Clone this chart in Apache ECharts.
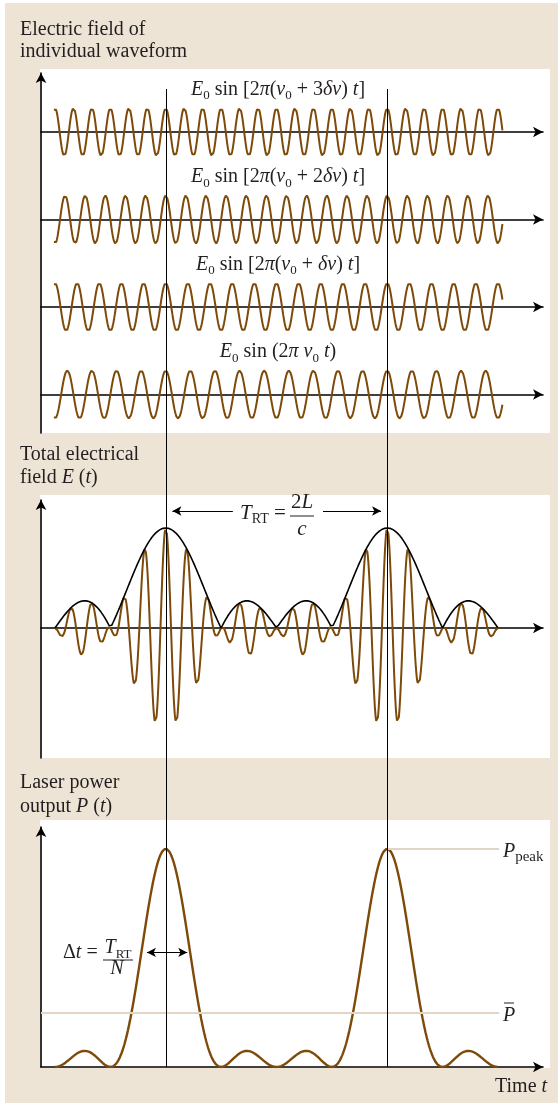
<!DOCTYPE html>
<html>
<head>
<meta charset="utf-8">
<title>Mode locking</title>
<script src="https://cdn.jsdelivr.net/npm/echarts@6/dist/echarts.min.js"></script>
<style>
  html, body { margin: 0; padding: 0; background: #fff; }
  #chart { width: 558px; height: 1103px; }
</style>
</head>
<body>
<div id="chart"></div>
<script>
// cycles of each mode per round trip, top row first (counted between the two marker lines)
var modeCycles = [12, 11, 10, 9];
var modeLabels = [
  '{i|E}{s|0}{r| sin [2}{i|π}{r|(}{i|ν}{s|0}{r| + 3}{i|δν}{r|) }{i|t}{r|]}',
  '{i|E}{s|0}{r| sin [2}{i|π}{r|(}{i|ν}{s|0}{r| + 2}{i|δν}{r|) }{i|t}{r|]}',
  '{i|E}{s|0}{r| sin [2}{i|π}{r|(}{i|ν}{s|0}{r| + }{i|δν}{r|) }{i|t}{r|]}',
  '{i|E}{s|0}{r| sin (2}{i|π ν}{s|0}{i| t}{r|)}'
];
// time in round-trip units, marker lines at 0 and 1
var markTimes = [0, 1];
var waveSpan = [-0.505, 1.52];
var pulseSpan = [-0.5, 1.5];
var ruleEnd = 1.505;
var step = 0.001;

var SERIF = "'Liberation Serif', 'DejaVu Serif', 'Times New Roman', serif";
var INK = '#231f20';
var BROWN = '#7d4a0a';
var SAND = '#ede4d6';
var RULE = '#e2d5c3';

var PX0 = 165.75, TPX = 221.5;   // pixel of t = 0, pixels per round trip
var LEFT = 41, RIGHT = 543;
var xMin = (LEFT - PX0) / TPX, xMax = (RIGHT - PX0) / TPX;
var waveMid = [132, 219.5, 307, 394.5];

function sample(a, b, fn) {
  var out = [], n = Math.round((b - a) / step);
  for (var k = 0; k <= n; k++) {
    var t = a + k * step;
    out.push([t, fn(t)]);
  }
  return out;
}
function sumModes(t) {
  var re = 0, im = 0;
  modeCycles.forEach(function (f) {
    re += Math.cos(2 * Math.PI * f * t);
    im += Math.sin(2 * Math.PI * f * t);
  });
  return [re, im];
}
var N = modeCycles.length;
var peakPower = N * N, meanPower = N;

function rich(size) {
  var sub = Math.round(size * 0.66);
  return {
    r: { fontFamily: SERIF, fontSize: size, fill: INK, lineHeight: size + 6 },
    i: { fontFamily: SERIF, fontSize: size, fontStyle: 'italic', fill: INK, lineHeight: size + 6 },
    s: { fontFamily: SERIF, fontSize: sub, fill: INK, lineHeight: sub + 4, verticalAlign: 'bottom' },
    b: { fontFamily: SERIF, fontSize: sub + 2, fill: INK, lineHeight: sub + 2, verticalAlign: 'bottom' }
  };
}
function text(x, y, str, size, align) {
  return {
    type: 'text', x: x, y: y, z: 100, silent: true,
    style: {
      text: str, fill: INK, fontFamily: SERIF, fontSize: size,
      align: align || 'left', verticalAlign: 'middle',
      textAlign: align || 'left', textVerticalAlign: 'middle',
      rich: rich(size)
    }
  };
}
function bar(x1, x2, y) {
  return { type: 'line', z: 100, silent: true, shape: { x1: x1, y1: y, x2: x2, y2: y }, style: { stroke: INK, lineWidth: 1 } };
}
function rect(x, y, w, h, c) {
  return { type: 'rect', z: -10, silent: true, shape: { x: x, y: y, width: w, height: h }, style: { fill: c } };
}

var arrowAxis = {
  show: true, onZero: true, symbol: ['none', 'arrow'], symbolSize: [8, 10],
  lineStyle: { color: '#000', width: 1.6 }
};
function xAx(gi, show) {
  return {
    type: 'value', gridIndex: gi, min: xMin, max: xMax, show: show,
    axisLine: arrowAxis, axisTick: { show: false }, axisLabel: { show: false }, splitLine: { show: false }
  };
}
function yAx(gi, min, max, show) {
  return {
    type: 'value', gridIndex: gi, min: min, max: max, show: show,
    axisLine: { show: true, onZero: false, symbol: ['none', 'arrow'], symbolSize: [8, 10], lineStyle: { color: '#000', width: 1.6 } },
    axisTick: { show: false }, axisLabel: { show: false }, splitLine: { show: false }
  };
}

var grids = [{ left: LEFT, top: 73, width: RIGHT - LEFT, height: 360 }];
var xAxes = [xAx(0, false)];
var yAxes = [yAx(0, 0, 1, true)];
var series = [];

modeCycles.forEach(function (f, i) {
  grids.push({ left: LEFT, top: waveMid[i] - 24, width: RIGHT - LEFT, height: 48 });
  xAxes.push(xAx(i + 1, true));
  yAxes.push(yAx(i + 1, -1, 1, false));
  series.push({
    type: 'line', xAxisIndex: i + 1, yAxisIndex: i + 1, showSymbol: false, silent: true,
    lineStyle: { color: BROWN, width: 2 },
    data: sample(waveSpan[0], waveSpan[1], function (t) { return Math.cos(2 * Math.PI * f * t); })
  });
});

// total field panel
grids.push({ left: LEFT, top: 500, width: RIGHT - LEFT, height: 258 });
xAxes.push(xAx(5, true));
yAxes.push(yAx(5, -5.2, 5.12, true));
series.push({
  type: 'line', xAxisIndex: 5, yAxisIndex: 5, showSymbol: false, silent: true,
  lineStyle: { color: BROWN, width: 2 },
  data: sample(pulseSpan[0], pulseSpan[1], function (t) { return sumModes(t)[0]; })
});
series.push({
  type: 'line', xAxisIndex: 5, yAxisIndex: 5, showSymbol: false, silent: true,
  lineStyle: { color: '#000', width: 1.6 },
  data: sample(pulseSpan[0], pulseSpan[1], function (t) { var s = sumModes(t); return Math.sqrt(s[0] * s[0] + s[1] * s[1]); }),
  markLine: {
    silent: true, symbol: ['none', 'arrow'], symbolSize: [7, 9],
    label: { show: false }, lineStyle: { color: '#000', width: 1, type: 'solid' },
    data: [
      [{ coord: [0.303, 4.68] }, { coord: [0.03, 4.68] }],
      [{ coord: [0.71, 4.68] }, { coord: [0.972, 4.68] }]
    ]
  }
});

// power panel
grids.push({ left: LEFT, top: 827, width: RIGHT - LEFT, height: 240 });
xAxes.push(xAx(6, true));
yAxes.push(yAx(6, 0, 17.6, true));
series.push({
  type: 'line', xAxisIndex: 6, yAxisIndex: 6, showSymbol: false, silent: true,
  lineStyle: { color: BROWN, width: 2.4 },
  data: sample(pulseSpan[0], pulseSpan[1], function (t) { var s = sumModes(t); return s[0] * s[0] + s[1] * s[1]; }),
  markLine: {
    silent: true, symbol: 'none', label: { show: false },
    lineStyle: { color: RULE, width: 2, type: 'solid' },
    data: [
      [{ coord: [markTimes[1], peakPower] }, { coord: [ruleEnd, peakPower] }],
      [{ coord: [xMin, meanPower] }, { coord: [ruleEnd, meanPower] }],
      [{ coord: [-0.085, 8.4], symbol: 'arrow', symbolSize: [7, 9], lineStyle: { color: '#000', width: 1 } },
       { coord: [0.097, 8.4], symbol: 'arrow', symbolSize: [7, 9] }]
    ]
  }
});

// marker lines through all panels
grids.push({ left: LEFT, top: 89, width: RIGHT - LEFT, height: 978 });
xAxes.push(xAx(7, false));
yAxes.push(yAx(7, 0, 1, false));
series.push({
  type: 'line', xAxisIndex: 7, yAxisIndex: 7, data: [], silent: true,
  markLine: {
    silent: true, symbol: 'none', label: { show: false },
    lineStyle: { color: '#000', width: 1, type: 'solid' },
    data: markTimes.map(function (t) { return { xAxis: t }; })
  }
});

var graphics = [
  rect(5, 3, 553, 1100, SAND),
  rect(40, 69, 510, 364, '#fff'),
  rect(40, 495, 510, 263, '#fff'),
  rect(40, 820, 510, 248, '#fff'),
  text(20, 30, 'Electric field of', 20),
  text(20, 52, 'individual waveform', 20),
  text(20, 455, 'Total electrical', 20),
  text(20, 478, '{r|field }{i|E}{r| (}{i|t}{r|)}', 20),
  text(20, 783, 'Laser power', 20),
  text(20, 807, '{r|output }{i|P}{r| (}{i|t}{r|)}', 20),
  text(240, 513, '{i|T}{s|RT}{r| =}', 21),
  text(302, 502, '{r|2}{i|L}', 21, 'center'),
  bar(290, 314, 516),
  text(302, 529, '{i|c}', 21, 'center'),
  text(63, 953, '{r|Δ}{i|t}{r| =}', 20),
  text(118, 948, '{i|T}{s|RT}', 20, 'center'),
  bar(103, 133, 960),
  text(117, 969, '{i|N}', 20, 'center'),
  text(503, 852, '{i|P}{b|peak}', 20),
  text(503, 1016, '{i|P}', 20),
  bar(504, 514, 1003),
  text(495, 1087, '{r|Time }{i|t}', 20)
];
modeLabels.forEach(function (s, i) {
  graphics.push(text(278, waveMid[i] - 42.5, s, 20, 'center'));
});

var chart = echarts.init(document.getElementById('chart'));
chart.setOption({
  animation: false,
  backgroundColor: '#fff',
  grid: grids,
  xAxis: xAxes,
  yAxis: yAxes,
  series: series,
  graphic: { elements: graphics }
});
</script>
</body>
</html>
